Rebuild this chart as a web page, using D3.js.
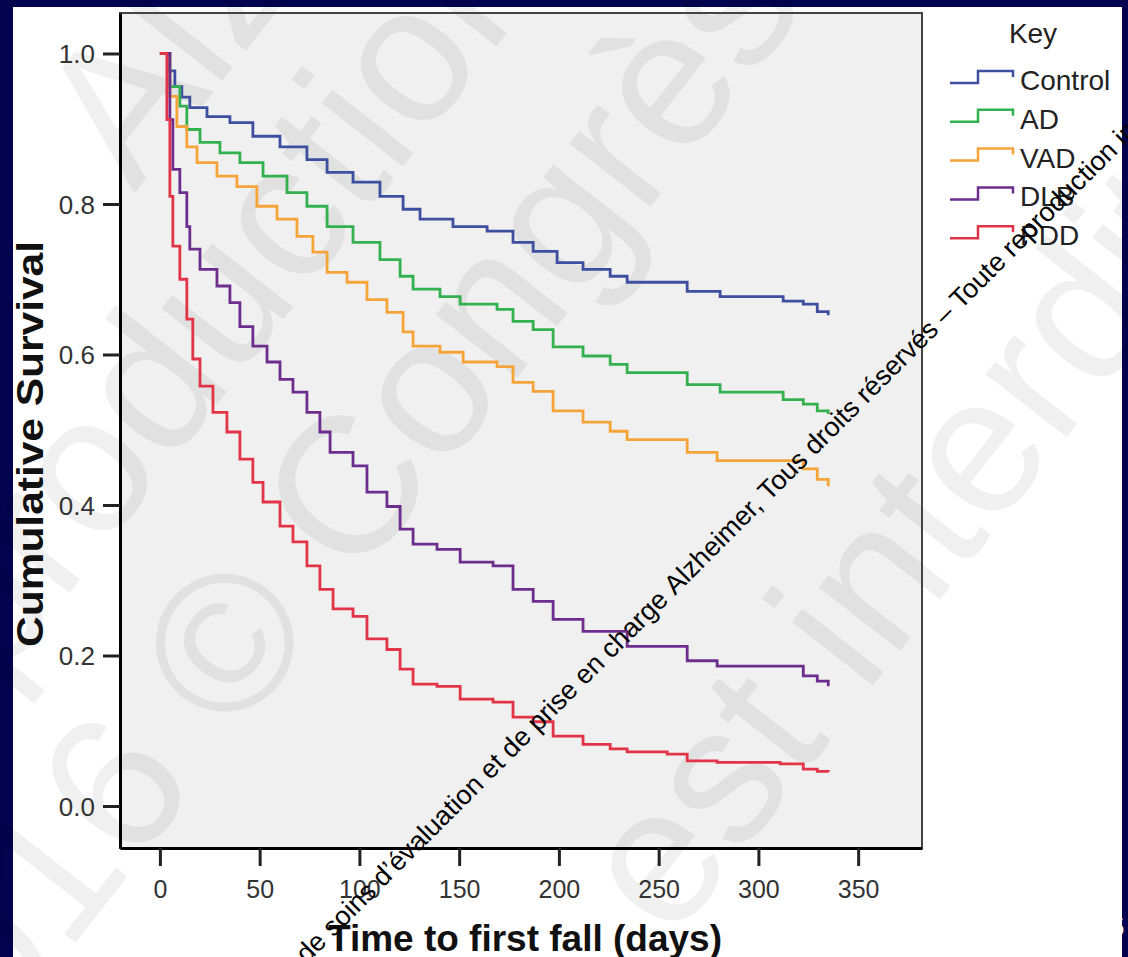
<!DOCTYPE html>
<html>
<head>
<meta charset="utf-8">
<script src="https://cdn.jsdelivr.net/npm/d3@7"></script>
<style>
html, body { margin: 0; padding: 0; background: #03034f; }
svg { display: block; }
</style>
</head>
<body>
<svg id="chart" width="1128" height="957"></svg>
<script>
// groups of the Kaplan-Meier plot
const groups = ["Control", "AD", "VAD", "DLB", "PDD"];
const groupColors = ["#3e4fa0", "#33b04f", "#f5a43a", "#6c2d8c", "#e23447"];

// time to first fall (days) and cumulative survival
const controlT = [0, 4, 7.5, 11, 15, 23.6, 35.1, 46.6, 60.2, 73.7, 83.8, 96.8, 110.3, 121.9, 130.4, 146.9, 164, 177, 187.1, 199.1, 212.1, 225.7, 234.2, 264.3, 280.8, 312.4, 322.5, 329.5, 335];
const controlS = [1.0, 0.977, 0.956, 0.942, 0.928, 0.916, 0.908, 0.890, 0.876, 0.859, 0.842, 0.829, 0.810, 0.793, 0.780, 0.770, 0.764, 0.749, 0.737, 0.722, 0.713, 0.704, 0.696, 0.684, 0.677, 0.671, 0.667, 0.657, 0.652];

const adT = [0, 5, 10, 13.5, 20.1, 30.1, 40.1, 51.7, 63.7, 73.7, 83.8, 96.8, 110.3, 120.4, 126.9, 140.4, 150.5, 169, 177, 187.1, 197.1, 212.1, 225.7, 234.2, 264.3, 280.8, 312.4, 322.5, 329.5, 335];
const adS = [1.0, 0.956, 0.930, 0.899, 0.882, 0.868, 0.855, 0.837, 0.815, 0.797, 0.770, 0.749, 0.726, 0.704, 0.687, 0.677, 0.667, 0.660, 0.644, 0.633, 0.610, 0.598, 0.587, 0.576, 0.560, 0.550, 0.540, 0.534, 0.525, 0.521];

const vadT = [0, 5, 8.5, 13.5, 18.6, 28.6, 38.6, 48.6, 58.7, 68.7, 76.7, 83.8, 93.8, 103.8, 113.8, 121.9, 126.9, 140.4, 152, 169, 177, 187.1, 197.1, 212.1, 225.7, 234.2, 264.3, 279.3, 322.5, 329.5, 335];
const vadS = [1.0, 0.943, 0.903, 0.876, 0.855, 0.837, 0.823, 0.797, 0.780, 0.757, 0.736, 0.709, 0.696, 0.673, 0.656, 0.630, 0.611, 0.603, 0.590, 0.584, 0.563, 0.551, 0.525, 0.510, 0.498, 0.487, 0.470, 0.459, 0.448, 0.434, 0.425];

const dlbT = [0, 5, 6.5, 10, 13.5, 15, 20.1, 28.6, 35.1, 40.1, 46.6, 53.7, 60.2, 66.7, 73.7, 80.2, 85.3, 96.8, 103.8, 113.8, 120.4, 126.9, 138.9, 150.5, 167, 177, 187.1, 197.1, 212.1, 234.2, 264.3, 279.3, 322.5, 329.5, 335];
const dlbS = [1.0, 0.912, 0.846, 0.815, 0.770, 0.740, 0.713, 0.691, 0.669, 0.637, 0.611, 0.590, 0.567, 0.550, 0.523, 0.497, 0.470, 0.452, 0.417, 0.398, 0.368, 0.348, 0.341, 0.324, 0.319, 0.288, 0.272, 0.248, 0.232, 0.212, 0.193, 0.186, 0.173, 0.166, 0.159];

const pddT = [0, 3.5, 5, 6.5, 10, 13.5, 16.5, 20.1, 26.6, 33.6, 40.1, 46.6, 51.7, 60.2, 66.7, 73.7, 80.2, 86.8, 96.8, 103.8, 113.8, 120.4, 126.9, 138.9, 150.5, 167, 177, 187.1, 197.1, 212.1, 225.7, 234.2, 254.3, 264.3, 279.3, 310.9, 322.5, 329.5, 335];
const pddS = [1.0, 0.912, 0.810, 0.744, 0.700, 0.647, 0.594, 0.558, 0.523, 0.497, 0.461, 0.430, 0.404, 0.372, 0.351, 0.319, 0.288, 0.262, 0.252, 0.222, 0.208, 0.182, 0.162, 0.159, 0.142, 0.138, 0.118, 0.112, 0.093, 0.082, 0.076, 0.072, 0.069, 0.060, 0.058, 0.056, 0.049, 0.046, 0.045];

const xTicks = [0, 50, 100, 150, 200, 250, 300, 350];
const yTicks = [0.0, 0.2, 0.4, 0.6, 0.8, 1.0];

const allT = [controlT, adT, vadT, dlbT, pddT];
const allS = [controlS, adS, vadS, dlbS, pddS];

const series = groups.map((g, i) => ({
    name: g,
    color: groupColors[i],
    values: allT[i].map((t, j) => ({ t: t, s: allS[i][j] }))
}));

const svg = d3.select("#chart");
const font = "Liberation Sans, Arial, sans-serif";

// slide background + panel
svg.append("rect").attr("width", 1128).attr("height", 957).attr("fill", "#03034f");
svg.append("text")
    .attr("x", 1110).attr("y", 936)
    .attr("font-family", font)
    .attr("font-size", 26)
    .attr("fill", "#ffffff")
    .text("5");
svg.append("rect")
    .attr("x", 13).attr("y", 7)
    .attr("width", 1109).attr("height", 950)
    .attr("fill", "#ffffff");

// plot frame
const plot = { left: 120, right: 922, top: 13, bottom: 848 };

const x = d3.scaleLinear().domain([-20, 382]).range([plot.left, plot.right]);
const y = d3.scaleLinear().domain([-0.0558, 1.0538]).range([plot.bottom, plot.top]);

svg.append("rect")
    .attr("x", plot.left).attr("y", plot.top)
    .attr("width", plot.right - plot.left)
    .attr("height", plot.bottom - plot.top)
    .attr("fill", "#f0f0f0");

// faint watermark
const wm = svg.append("g")
    .attr("transform", "rotate(-52)")
    .attr("font-family", font)
    .attr("font-size", 195)
    .attr("fill", "#000")
    .attr("fill-opacity", 0.058);
const wmLines = [
    { text: "Alzheimer", s: -70, n: 225 },
    { text: "reproduction", s: -720, n: 420 },
    { text: "2016 \u00A9 Congr\u00E8s", s: -928, n: 640 },
    { text: "est interdite", s: -330, n: 1110 }
];
wm.selectAll("text").data(wmLines).enter().append("text")
    .attr("x", d => d.s).attr("y", d => d.n)
    .text(d => d.text);

svg.append("rect")
    .attr("x", plot.left).attr("y", plot.top)
    .attr("width", plot.right - plot.left)
    .attr("height", plot.bottom - plot.top)
    .attr("fill", "none")
    .attr("stroke", "#444")
    .attr("stroke-width", 2);

// axes
const xAxis = svg.append("g")
    .attr("transform", `translate(0,${plot.bottom})`)
    .call(d3.axisBottom(x).tickValues(xTicks).tickFormat(d3.format("d")).tickSize(18).tickSizeOuter(0));
xAxis.select(".domain").attr("stroke", "#000").attr("stroke-width", 3);
xAxis.selectAll(".tick line").attr("stroke", "#222").attr("stroke-width", 3);
xAxis.selectAll(".tick text")
    .attr("y", 50).attr("dy", 0)
    .attr("fill", "#333")
    .style("font-family", font)
    .style("font-size", "25px");

const yAxis = svg.append("g")
    .attr("transform", `translate(${plot.left},0)`)
    .call(d3.axisLeft(y).tickValues(yTicks).tickFormat(d3.format(".1f")).tickSize(17).tickSizeOuter(0));
yAxis.select(".domain").attr("stroke", "#000").attr("stroke-width", 3);
yAxis.selectAll(".tick line").attr("stroke", "#222").attr("stroke-width", 3);
yAxis.selectAll(".tick text")
    .attr("x", -25).attr("dy", "0.36em")
    .attr("fill", "#333")
    .style("font-family", font)
    .style("font-size", "26px");

// axis titles
svg.append("text")
    .attr("x", 525).attr("y", 951)
    .attr("text-anchor", "middle")
    .attr("font-family", font)
    .attr("font-weight", "bold")
    .attr("font-size", 37)
    .attr("fill", "#111")
    .text("Time to first fall (days)");

svg.append("text")
    .attr("transform", "translate(43,444) rotate(-90)")
    .attr("text-anchor", "middle")
    .attr("font-family", font)
    .attr("font-weight", "bold")
    .attr("font-size", 37)
    .attr("fill", "#111")
    .attr("textLength", 406)
    .attr("lengthAdjust", "spacingAndGlyphs")
    .text("Cumulative Survival");

// survival curves
const line = d3.line()
    .x(d => x(d.t))
    .y(d => y(d.s))
    .curve(d3.curveStepAfter);

svg.append("g").selectAll("path")
    .data(series)
    .enter().append("path")
    .attr("d", d => line(d.values))
    .attr("fill", "none")
    .attr("stroke", d => d.color)
    .attr("stroke-width", 2.8)
    .attr("stroke-linejoin", "miter");

// legend
const legend = svg.append("g").attr("font-family", font);
legend.append("text")
    .attr("x", 1033).attr("y", 43)
    .attr("text-anchor", "middle")
    .attr("font-size", 28)
    .attr("fill", "#222")
    .text("Key");

const items = legend.selectAll("g.item")
    .data(series)
    .enter().append("g")
    .attr("class", "item")
    .attr("transform", (d, i) => `translate(0,${90 + i * 38.8})`);

items.append("path")
    .attr("d", "M950,-7H978V-19H1013V-13")
    .attr("fill", "none")
    .attr("stroke", d => d.color)
    .attr("stroke-width", 2.5);

items.append("text")
    .attr("x", 1020).attr("y", 0)
    .attr("font-size", 28)
    .attr("fill", "#222")
    .text(d => d.name);

// copyright line across the slide
const note = svg.append("g")
    .attr("transform", "translate(675,596) rotate(-45)")
    .attr("font-family", font)
    .attr("font-size", 27)
    .attr("fill", "#000");
note.append("text")
    .attr("text-anchor", "end")
    .text("Centre de soins d\u2019\u00E9valuation et de prise en charge\u00A0");
note.append("text")
    .attr("text-anchor", "start")
    .text("Alzheimer, Tous droits r\u00E9serv\u00E9s \u2013 Toute reproduction interdite");
</script>
</body>
</html>
